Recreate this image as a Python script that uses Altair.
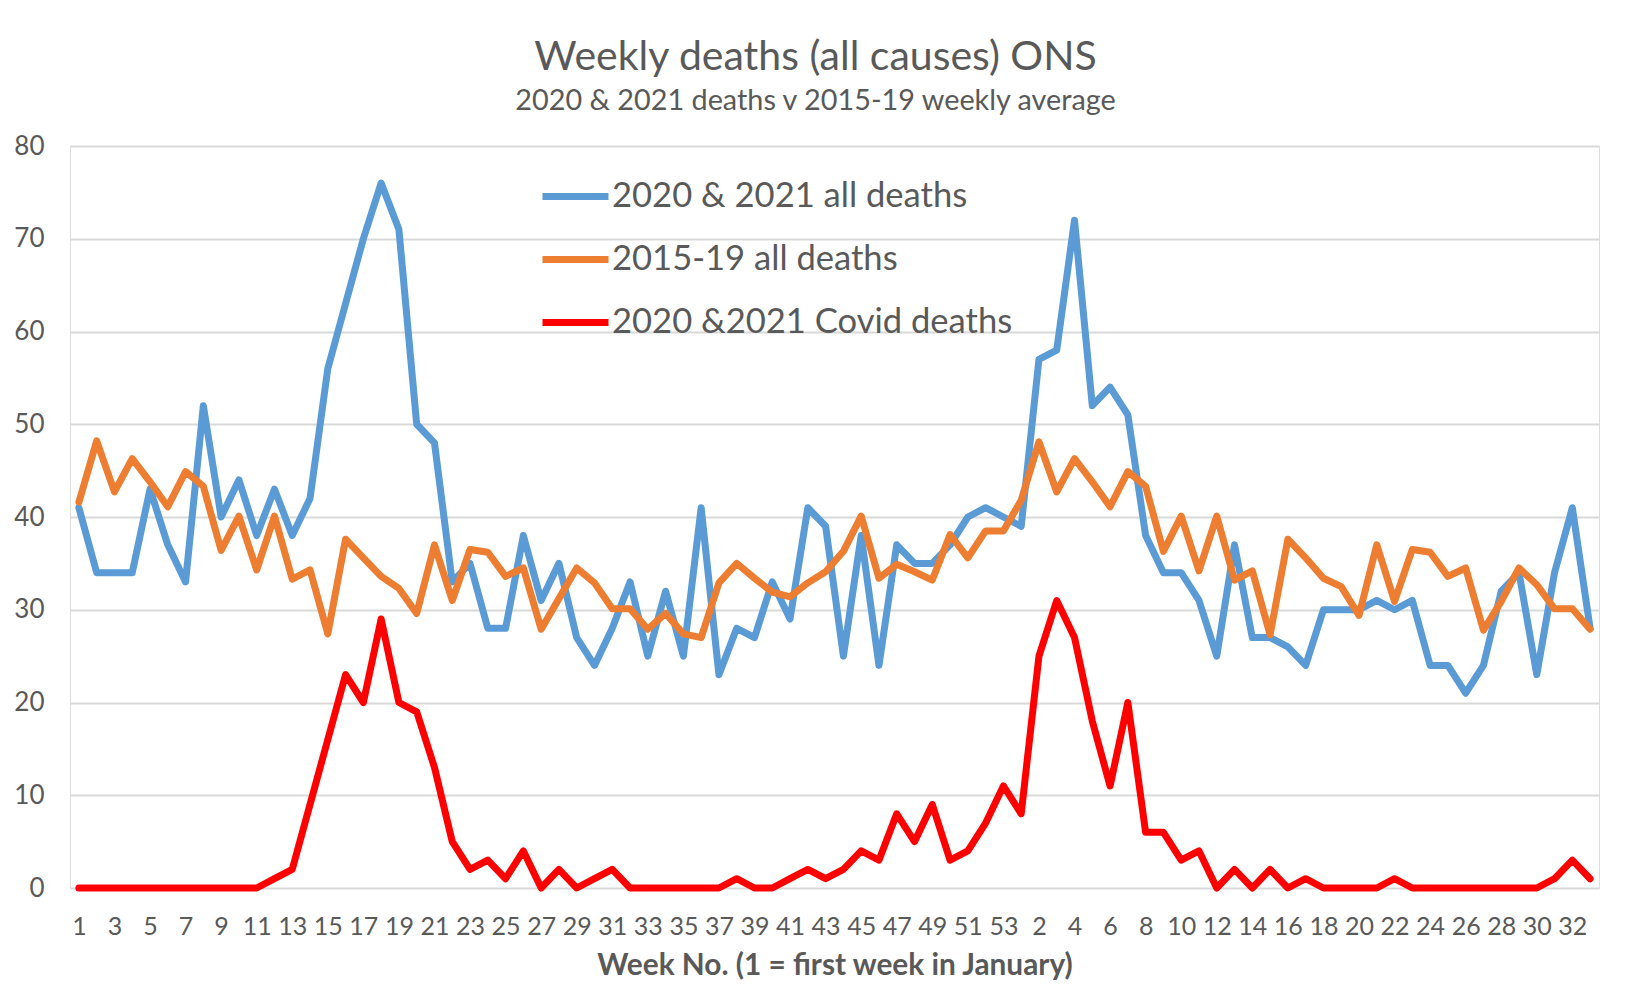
import altair as alt
import pandas as pd

# ---- data ----
weeks_2020 = list(range(1, 54))
weeks_2021 = list(range(1, 34))
week_labels = [str(w) for w in weeks_2020 + weeks_2021]

all_deaths_2020_21 = [
    41, 34, 34, 34, 43, 37, 33, 52, 40, 44, 38, 43, 38, 42, 56, 63, 70, 76, 71, 50,
    48, 33, 35, 28, 28, 38, 31, 35, 27, 24, 28, 33, 25, 32, 25, 41, 23, 28, 27, 33,
    29, 41, 39, 25, 38, 24, 37, 35, 35, 37, 40, 41, 40,
    39, 57, 58, 72, 52, 54, 51, 38, 34, 34, 31, 25, 37, 27, 27, 26, 24, 30, 30, 30,
    31, 30, 31, 24, 24, 21, 24, 32, 34, 23, 34, 41, 28,
]

avg_deaths_2015_19 = [
    41.6, 48.2, 42.7, 46.3, 43.8, 41.1, 44.9, 43.3, 36.4, 40.1, 34.3, 40.1, 33.3,
    34.3, 27.4, 37.6, 35.6, 33.6, 32.3, 29.6, 37.0, 31.0, 36.5, 36.2, 33.6, 34.5,
    27.9, 31.2, 34.5, 32.9, 30.1, 30.1, 27.9, 29.6, 27.4, 27.0, 32.9, 35.0, 33.4,
    31.9, 31.4, 32.9, 34.1, 36.3, 40.1, 33.4, 34.9, 34.1, 33.2, 38.1, 35.6, 38.5, 38.5,
    41.8, 48.1, 42.7, 46.3, 43.8, 41.1, 44.9, 43.3, 36.3, 40.1, 34.2, 40.1, 33.2,
    34.2, 27.3, 37.6, 35.6, 33.4, 32.5, 29.4, 37.0, 30.9, 36.5, 36.2, 33.6, 34.5,
    27.8, 30.9, 34.5, 32.7, 30.1, 30.1, 27.9,
]

covid_deaths_2020_21 = [
    0, 0, 0, 0, 0, 0, 0, 0, 0, 0, 0, 1, 2, 9, 16, 23, 20, 29, 20, 19,
    13, 5, 2, 3, 1, 4, 0, 2, 0, 1, 2, 0, 0, 0, 0, 0, 0, 1, 0, 0,
    1, 2, 1, 2, 4, 3, 8, 5, 9, 3, 4, 7, 11,
    8, 25, 31, 27, 18, 11, 20, 6, 6, 3, 4, 0, 2, 0, 2, 0, 1, 0, 0, 0,
    0, 1, 0, 0, 0, 0, 0, 0, 0, 0, 1, 3, 1,
]

series_names = ["2020 & 2021 all deaths", "2015-19 all deaths", "2020 &2021 Covid deaths"]
series_colors = ["#5B9BD5", "#ED7D31", "#FF0000"]

rows = []
for name, vals in zip(series_names, [all_deaths_2020_21, avg_deaths_2015_19, covid_deaths_2020_21]):
    for i, v in enumerate(vals):
        rows.append({"idx": i, "week": week_labels[i], "series": name, "deaths": v})
df = pd.DataFrame(rows)

label_expr = "[" + ",".join("'%s'" % w for w in week_labels) + "][datum.value]"

FONT = "Lato"
GREY = "#595959"
W, H = 1529, 742
LINE_W = 7

chart = (
    alt.Chart(df)
    .mark_line(strokeWidth=LINE_W, strokeJoin="round", strokeCap="round")
    .encode(
        x=alt.X(
            "idx:Q",
            scale=alt.Scale(domain=[-0.5, len(week_labels) - 0.5], nice=False, zero=False),
            axis=alt.Axis(
                values=list(range(0, len(week_labels), 2)),
                labelExpr=label_expr,
                title="Week No. (1 = first week in January)",
                grid=False,
                ticks=False,
                tickSize=0,
                domain=False,
                labelFont=FONT,
                labelFontSize=25,
                labelColor=GREY,
                labelPadding=26,
                labelOverlap=False,
                labelFlush=False,
                titleFont=FONT,
                titleFontSize=29.8,
                titleFontWeight="bold",
                titleColor=GREY,
                titlePadding=11,
            ),
        ),
        y=alt.Y(
            "deaths:Q",
            scale=alt.Scale(domain=[0, 80], nice=False),
            axis=alt.Axis(
                values=list(range(0, 81, 10)),
                title=None,
                grid=True,
                gridColor="#D9D9D9",
                gridWidth=2,
                ticks=False,
                tickSize=0,
                domain=False,
                labelFont=FONT,
                labelFontSize=26,
                labelColor=GREY,
                labelPadding=26,
            ),
        ),
        color=alt.Color(
            "series:N",
            scale=alt.Scale(domain=series_names, range=series_colors),
            legend=alt.Legend(
                title=None,
                orient="none",
                legendX=487,
                legendY=32,
                direction="vertical",
                symbolType="M-2.2,0H2.2",
                symbolSize=900,
                symbolStrokeWidth=LINE_W,
                labelFont=FONT,
                labelFontSize=34.6,
                labelColor=GREY,
                labelOffset=18,
                rowPadding=27,
                padding=0,
                labelLimit=700,
            ),
        ),
    )
    .properties(
        width=W,
        height=H,
        autosize=alt.AutoSizeParams(type="none"),
        padding={"left": 62, "top": 138, "right": 14, "bottom": 92},
        title=alt.TitleParams(
            text="Weekly deaths (all causes) ONS",
            subtitle="2020 & 2021 deaths v 2015-19 weekly average",
            font=FONT,
            fontSize=41,
            fontWeight="normal",
            color=GREY,
            subtitleFont=FONT,
            subtitleFontSize=28.8,
            subtitleColor=GREY,
            subtitlePadding=8,
            anchor="middle",
            dx=-19,
            offset=16,
        ),
    )
    .configure_view(stroke=None)
    .configure(background="white")
)

chart.save("out.html", embed_options={"renderer": "svg", "actions": False})
